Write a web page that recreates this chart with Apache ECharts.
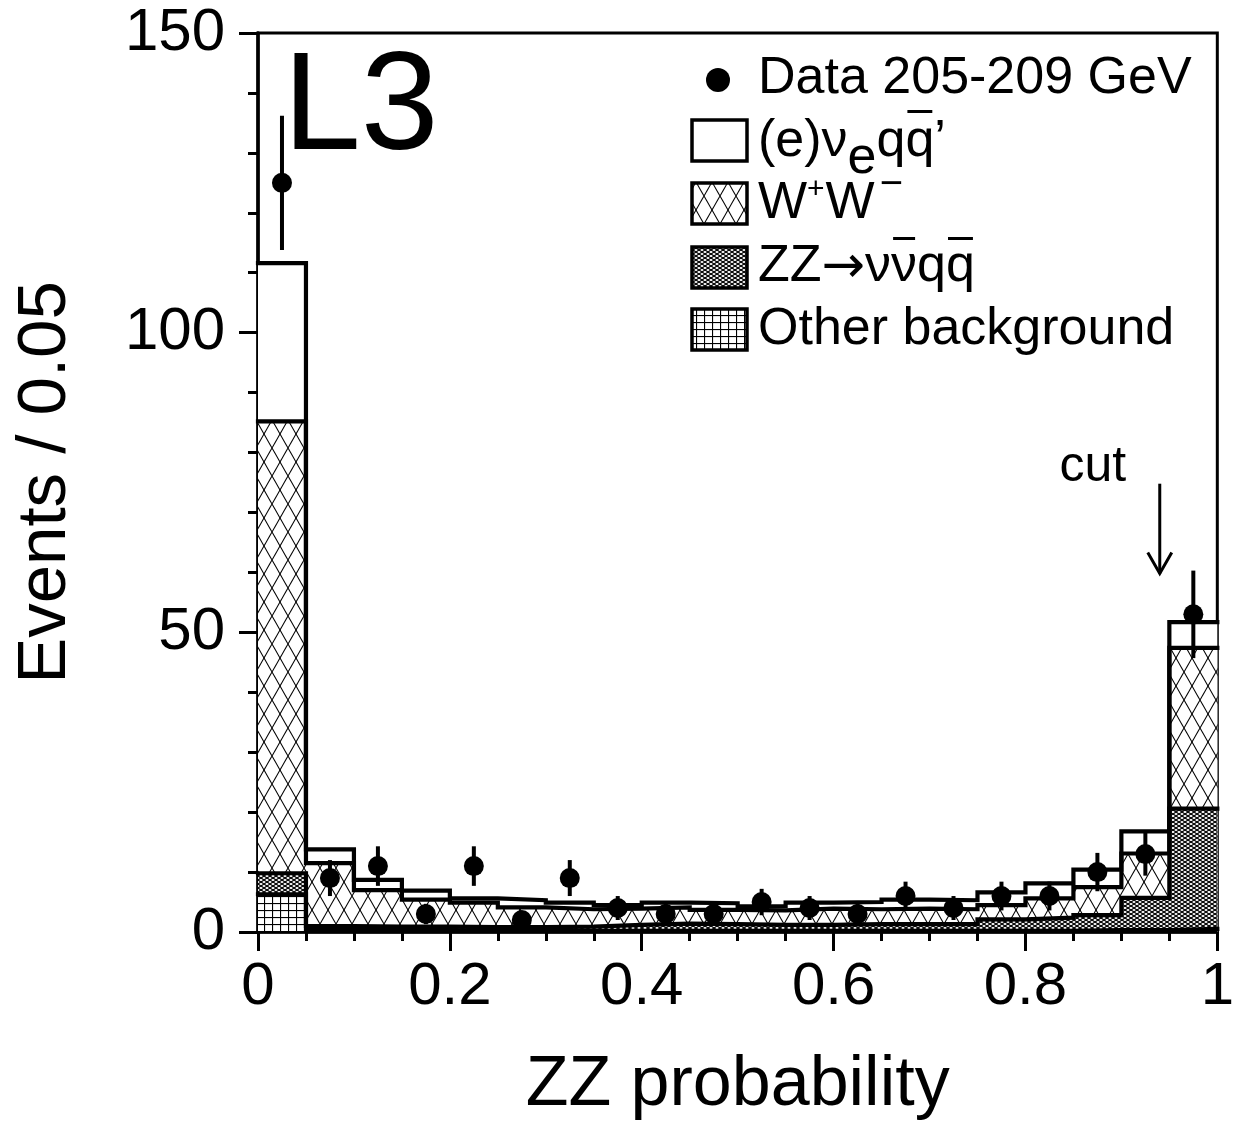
<!DOCTYPE html>
<html><head><meta charset="utf-8">
<script src="https://cdn.jsdelivr.net/npm/echarts@6/dist/echarts.min.js"></script>
<style>html,body{margin:0;padding:0;background:#fff}#c{width:1237px;height:1129px}</style>
</head><body><div id="c"></div>
<script>
// ---- data ----
const binLow = [0, 0.05, 0.1, 0.15, 0.2, 0.25, 0.3, 0.35, 0.4, 0.45, 0.5, 0.55, 0.6, 0.65, 0.7, 0.75, 0.8, 0.85, 0.9, 0.95];
const binWidth = 0.05;
const dataCounts = [125, 9, 11, 3, 11, 2, 9, 4, 3, 3, 5, 4, 3, 6, 4, 6, 6, 10, 13, 53];
const dataErrors = [11.2, 3.0, 3.3, 1.7, 3.3, 1.4, 3.0, 2.0, 1.7, 1.7, 2.2, 2.0, 1.7, 2.4, 2.0, 2.4, 2.4, 3.2, 3.6, 7.3];
const otherBkg = [6.3, 0.4, 0.3, 0.3, 0.2, 0.2, 0.2, 0.2, 0.2, 0.2, 0.2, 0.2, 0.2, 0.2, 0.2, 0.2, 0.2, 0.3, 0.3, 0.5];
const zzNuNuQQ = [3.5, 0.6, 0.6, 0.6, 0.6, 0.6, 0.7, 1.0, 1.2, 1.1, 1.0, 1.0, 1.1, 1.1, 1.1, 1.9, 2.2, 2.5, 5.4, 20.1];
const wwBkg = [75.4, 10.5, 6.1, 4.5, 4.1, 3.3, 2.9, 2.7, 2.7, 2.4, 2.4, 2.7, 2.5, 2.6, 2.5, 2.4, 3.2, 4.7, 7.4, 26.8];
const enuQQ = [26.4, 2.3, 1.7, 1.5, 0.7, 1.2, 1.1, 0.6, 0.8, 1.1, 0.7, 1.0, 1.2, 1.5, 1.5, 2.1, 2.5, 2.9, 3.7, 4.3];
const cutValue = 0.94;
const cutArrow = [74.8, 59.8];  // arrow from / to (events)
const xTickValues = [0, 0.2, 0.4, 0.6, 0.8, 1];

const FONT = "'Liberation Sans', Arial, Helvetica, sans-serif";
const SYMFONT = "'DejaVu Sans', sans-serif";

// ---- fill patterns ----
function makePattern(w, h, lw, draw) {
  const c = document.createElement('canvas');
  c.width = w; c.height = h;
  const ctx = c.getContext('2d');
  ctx.fillStyle = '#fff'; ctx.fillRect(0, 0, w, h);
  ctx.strokeStyle = '#000'; ctx.lineWidth = lw;
  const ln = (a, b, c2, d) => { ctx.beginPath(); ctx.moveTo(a, b); ctx.lineTo(c2, d); ctx.stroke(); };
  draw(ln, w, h);
  return c;
}
const patWW = makePattern(16, 28, 1.1, (ln, w, h) => { ln(0, 0, w, h); ln(w, 0, 0, h); });
const patZZ = makePattern(6, 4, 1.1, (ln, w, h) => { ln(0, 0, w, h); ln(w, 0, 0, h); });
const patOther = makePattern(8, 7, 1.2, (ln, w, h) => { ln(0.5, 0, 0.5, h); ln(0, 0.5, w, 0.5); });
const pat = (img) => ({ image: img, repeat: 'repeat' });

// ---- cumulative stacks ----
const cum1 = otherBkg.map(v => v);
const cum2 = cum1.map((v, i) => v + zzNuNuQQ[i]);
const cum3 = cum2.map((v, i) => v + wwBkg[i]);
const cum4 = cum3.map((v, i) => v + enuQQ[i]);
const stepData = lvl => binLow.map((x, i) => [x, lvl[i]]).concat([[binLow[binLow.length - 1] + binWidth, lvl[lvl.length - 1]]]);

const areaSeries = (lvl, fill) => ({
  type: 'line', step: 'end', data: stepData(lvl), symbol: 'none', silent: true, z: 1,
  lineStyle: { width: 0, opacity: 0 }, areaStyle: { color: fill, opacity: 1, origin: 'start' }
});
const lineSeries = lvl => ({
  type: 'line', step: 'end', data: stepData(lvl), symbol: 'none', silent: true, z: 3,
  lineStyle: { color: '#000', width: 4.2, cap: 'square', join: 'miter' }
});

const chart = echarts.init(document.getElementById('c'), null, { renderer: 'canvas' });

// ---- legend text pieces (positioned by measuring the rendered font) ----
const mctx = document.createElement('canvas').getContext('2d');
const mw = (s, size, fam) => { mctx.font = `${size}px ${fam || FONT}`; return mctx.measureText(s).width; };
const LX = 758, LS = 52;
const txt = (text, x, y, size, fam) => ({
  type: 'text', z: 100,
  style: { text, x, y, fontSize: size || LS, fontFamily: fam || FONT, fill: '#000', verticalAlign: 'middle', align: 'left' }
});
const bar = (x, w, y) => ({ type: 'rect', z: 100, shape: { x: x + 2, y, width: w - 4, height: 3 }, style: { fill: '#000' } });
const legendBox = (y, fill) => ({
  type: 'rect', z: 100, shape: { x: 692, y, width: 55, height: 41 },
  style: { fill, stroke: '#000', lineWidth: 3.5 }
});

const rowY = [78.8, 141.8, 203.8, 266.8, 329.8];
const legend = [];
legend.push({ type: 'circle', z: 100, shape: { cx: 718, cy: 80, r: 12 }, style: { fill: '#000' } });
legend.push(txt('Data 205-209 GeV', LX, rowY[0]));
// (e) nu_e q qbar'
legend.push(legendBox(120, '#fff'));
{
  const x1 = LX + mw('(e)\u03bd', LS);
  const x2 = x1 + mw('e', LS);
  legend.push(txt('(e)\u03bd', LX, rowY[1]));
  legend.push(txt('e', x1, rowY[1] + 17));
  legend.push(txt('qq\u2019', x2, rowY[1]));
  legend.push(bar(x2 + mw('q', LS), mw('q', LS), 110));
}
// W+ W-
legend.push(legendBox(183, pat(patWW)));
{
  const x1 = LX + mw('W', LS);
  const x2 = x1 + mw('+', 30) + 1;
  const x3 = x2 + mw('W', LS) + 5;
  legend.push(txt('W', LX, rowY[2]));
  legend.push(txt('+', x1, rowY[2] - 14, 30));
  legend.push(txt('W', x2, rowY[2]));
  legend.push(txt('\u2212', x3, rowY[2] - 19, 40));
}
// ZZ -> nu nubar q qbar
legend.push(legendBox(247, pat(patZZ)));
{
  const x1 = LX + mw('ZZ', LS);
  const x2 = x1 + mw('\u2192', LS, SYMFONT);
  legend.push(txt('ZZ', LX, rowY[3]));
  legend.push(txt('\u2192', x1, rowY[3] + 2, LS, SYMFONT));
  legend.push(txt('\u03bd\u03bdqq', x2, rowY[3]));
  legend.push(bar(x2 + mw('\u03bd', LS), mw('\u03bd', LS), 237));
  legend.push(bar(x2 + mw('\u03bd\u03bdq', LS), mw('q', LS), 237));
}
legend.push(legendBox(309, pat(patOther)));
legend.push(txt('Other background', LX, rowY[4]));

const option = {
  animation: false,
  backgroundColor: '#fff',
  grid: { left: 258, right: 15, top: 33, bottom: 197, show: true, borderColor: '#000', borderWidth: 3, backgroundColor: 'transparent' },
  xAxis: {
    type: 'value', min: 0, max: 1, interval: 0.2,
    name: 'ZZ probability', nameLocation: 'middle', nameGap: 119,
    nameTextStyle: { fontSize: 70, fontFamily: FONT, color: '#000' },
    axisLine: { show: true, lineStyle: { color: '#000', width: 3.5 } },
    axisTick: { show: true, length: 19, lineStyle: { color: '#000', width: 3 } },
    minorTick: { show: true, splitNumber: 4, length: 9, lineStyle: { color: '#000', width: 3 } },
    splitLine: { show: false }, minorSplitLine: { show: false },
    axisLabel: { fontSize: 60, fontFamily: FONT, color: '#000', margin: 25,
      formatter: v => { const r = Math.round(v * 10) / 10; return xTickValues.includes(r) ? String(r) : ''; } }
  },
  yAxis: {
    type: 'value', min: 0, max: 150, interval: 50,
    name: 'Events / 0.05', nameLocation: 'middle', nameGap: 178, nameRotate: 90,
    nameTextStyle: { fontSize: 69, fontFamily: FONT, color: '#000' },
    axisLine: { show: true, lineStyle: { color: '#000', width: 3.5 } },
    axisTick: { show: true, length: 19, lineStyle: { color: '#000', width: 3 } },
    minorTick: { show: true, splitNumber: 5, length: 10, lineStyle: { color: '#000', width: 3 } },
    splitLine: { show: false }, minorSplitLine: { show: false },
    axisLabel: { fontSize: 60, fontFamily: FONT, color: '#000', margin: 33 }
  },
  series: [
    areaSeries(cum4, '#fff'),
    areaSeries(cum3, pat(patWW)),
    areaSeries(cum2, pat(patZZ)),
    areaSeries(cum1, pat(patOther)),
    lineSeries(cum4), lineSeries(cum3), lineSeries(cum2), lineSeries(cum1),
    {
      type: 'custom', z: 4, silent: true,
      data: binLow.map((x, i) => [x + binWidth / 2, dataCounts[i], dataErrors[i]]),
      renderItem: (params, api) => {
        const x = api.value(0), y = api.value(1), e = api.value(2);
        const p1 = api.coord([x, y - e]), p2 = api.coord([x, y + e]);
        return { type: 'line', shape: { x1: p1[0], y1: p1[1], x2: p2[0], y2: p2[1] }, style: { stroke: '#000', lineWidth: 4 } };
      }
    },
    {
      type: 'scatter', z: 5, silent: true, symbol: 'circle', symbolSize: 20,
      itemStyle: { color: '#000', opacity: 1 },
      data: binLow.map((x, i) => [x + binWidth / 2, dataCounts[i]])
    },
    {
      type: 'custom', z: 6, silent: true,
      data: [[cutValue, cutArrow[0], cutArrow[1]]],
      renderItem: (params, api) => {
        const a = api.coord([api.value(0), api.value(1)]);
        const b = api.coord([api.value(0), api.value(2)]);
        return { type: 'group', children: [
          { type: 'line', shape: { x1: a[0], y1: a[1], x2: b[0], y2: b[1] }, style: { stroke: '#000', lineWidth: 3 } },
          { type: 'polyline', shape: { points: [[b[0] - 12, b[1] - 21], [b[0], b[1]], [b[0] + 12, b[1] - 21]] }, style: { stroke: '#000', lineWidth: 3, fill: null } },
          { type: 'text', style: { text: 'cut', x: a[0] - 67, y: a[1] - 16, fontSize: 50, fontFamily: FONT, fill: '#000', align: 'center', verticalAlign: 'middle' } }
        ] };
      }
    }
  ],
  graphic: [
    { type: 'text', z: 100, style: { text: 'L3', x: 283, y: 110, fontSize: 140, fontFamily: FONT, fill: '#000', verticalAlign: 'middle' } }
  ].concat(legend)
};
chart.setOption(option);
</script>
</body></html>
